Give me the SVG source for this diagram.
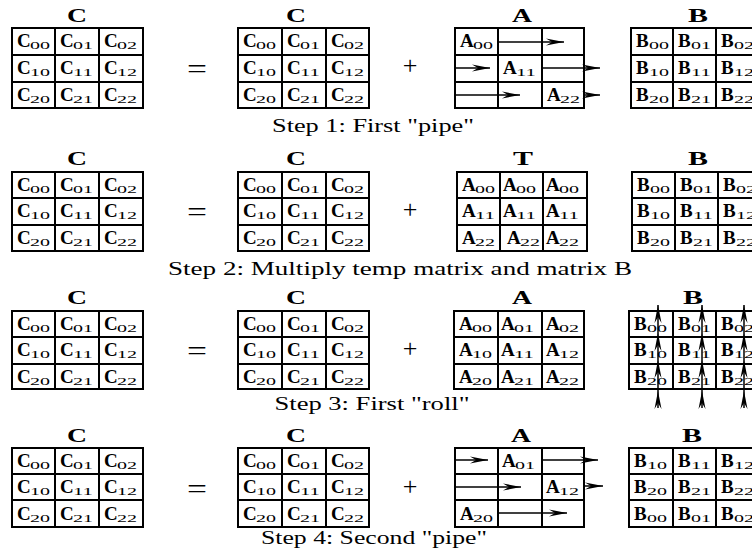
<svg xmlns="http://www.w3.org/2000/svg" width="752" height="555" viewBox="0 0 752 555">
<style>
text{font-family:"Liberation Serif","Times New Roman",serif;fill:#000}
.L{font-weight:bold;font-size:19px}
.s{font-size:11px}
.t{font-weight:bold;font-size:19px;text-anchor:middle}
.cap{font-size:18px;text-anchor:middle}
.op{text-anchor:middle}
.g{fill:none;stroke:#000;stroke-width:2}
.ar{fill:none;stroke:#000;stroke-width:1.5;marker-end:url(#ah)}
</style>
<defs>
<marker id="ah" markerUnits="userSpaceOnUse" markerWidth="20" markerHeight="8" refX="18" refY="3.5" orient="auto" overflow="visible"><path d="M0,0 L18,3.5 L0,7 L6,3.5 Z" fill="#000"/></marker>
</defs>
<rect width="752" height="555" fill="#fff"/>

<!-- ROW 1 -->
<g id="r1-C-left">
<text class="t" x="77" y="22" textLength="20" lengthAdjust="spacingAndGlyphs">C</text>
<path class="g" d="M12 28H143V108H12Z M55 28V108 M99 28V108 M12 55H143 M12 82H143"/>
<text class="L" x="17" y="47">C</text><text class="s" x="30" y="49" textLength="20" lengthAdjust="spacingAndGlyphs">00</text>
<text class="L" x="60" y="47">C</text><text class="s" x="73" y="49" textLength="20" lengthAdjust="spacingAndGlyphs">01</text>
<text class="L" x="104" y="47">C</text><text class="s" x="117" y="49" textLength="20" lengthAdjust="spacingAndGlyphs">02</text>
<text class="L" x="17" y="74">C</text><text class="s" x="30" y="76" textLength="20" lengthAdjust="spacingAndGlyphs">10</text>
<text class="L" x="60" y="74">C</text><text class="s" x="73" y="76" textLength="20" lengthAdjust="spacingAndGlyphs">11</text>
<text class="L" x="104" y="74">C</text><text class="s" x="117" y="76" textLength="20" lengthAdjust="spacingAndGlyphs">12</text>
<text class="L" x="17" y="101">C</text><text class="s" x="30" y="103" textLength="20" lengthAdjust="spacingAndGlyphs">20</text>
<text class="L" x="60" y="101">C</text><text class="s" x="73" y="103" textLength="20" lengthAdjust="spacingAndGlyphs">21</text>
<text class="L" x="104" y="101">C</text><text class="s" x="117" y="103" textLength="20" lengthAdjust="spacingAndGlyphs">22</text>
</g>
<text class="op" x="197" y="78" font-size="28" textLength="20" lengthAdjust="spacingAndGlyphs">=</text>
<g id="r1-C-mid">
<text class="t" x="296" y="22" textLength="20" lengthAdjust="spacingAndGlyphs">C</text>
<path class="g" d="M238 28H369V108H238Z M282 28V108 M326 28V108 M238 55H369 M238 82H369"/>
<text class="L" x="243" y="47">C</text><text class="s" x="256" y="49" textLength="20" lengthAdjust="spacingAndGlyphs">00</text>
<text class="L" x="287" y="47">C</text><text class="s" x="300" y="49" textLength="20" lengthAdjust="spacingAndGlyphs">01</text>
<text class="L" x="331" y="47">C</text><text class="s" x="344" y="49" textLength="20" lengthAdjust="spacingAndGlyphs">02</text>
<text class="L" x="243" y="74">C</text><text class="s" x="256" y="76" textLength="20" lengthAdjust="spacingAndGlyphs">10</text>
<text class="L" x="287" y="74">C</text><text class="s" x="300" y="76" textLength="20" lengthAdjust="spacingAndGlyphs">11</text>
<text class="L" x="331" y="74">C</text><text class="s" x="344" y="76" textLength="20" lengthAdjust="spacingAndGlyphs">12</text>
<text class="L" x="243" y="101">C</text><text class="s" x="256" y="103" textLength="20" lengthAdjust="spacingAndGlyphs">20</text>
<text class="L" x="287" y="101">C</text><text class="s" x="300" y="103" textLength="20" lengthAdjust="spacingAndGlyphs">21</text>
<text class="L" x="331" y="101">C</text><text class="s" x="344" y="103" textLength="20" lengthAdjust="spacingAndGlyphs">22</text>
</g>
<text class="op" x="410" y="74" font-size="26">+</text>
<g id="r1-A">
<text class="t" x="522" y="22" textLength="20" lengthAdjust="spacingAndGlyphs">A</text>
<path class="g" d="M455 28H584V108H455Z M498 28V108 M542 28V108 M455 55H584 M455 82H584"/>
<text class="L" x="460" y="47">A</text><text class="s" x="473" y="49" textLength="20" lengthAdjust="spacingAndGlyphs">00</text>
<text class="L" x="503" y="74">A</text><text class="s" x="516" y="76" textLength="20" lengthAdjust="spacingAndGlyphs">11</text>
<text class="L" x="547" y="101">A</text><text class="s" x="560" y="103" textLength="20" lengthAdjust="spacingAndGlyphs">22</text>
</g>
<g id="r1-B">
<text class="t" x="698" y="22" textLength="20" lengthAdjust="spacingAndGlyphs">B</text>
<path class="g" d="M631 28H759V108H631Z M673 28V108 M716 28V108 M631 55H759 M631 82H759"/>
<text class="L" x="636" y="47">B</text><text class="s" x="649" y="49" textLength="20" lengthAdjust="spacingAndGlyphs">00</text>
<text class="L" x="678" y="47">B</text><text class="s" x="691" y="49" textLength="20" lengthAdjust="spacingAndGlyphs">01</text>
<text class="L" x="721" y="47">B</text><text class="s" x="734" y="49" textLength="20" lengthAdjust="spacingAndGlyphs">02</text>
<text class="L" x="636" y="74">B</text><text class="s" x="649" y="76" textLength="20" lengthAdjust="spacingAndGlyphs">10</text>
<text class="L" x="678" y="74">B</text><text class="s" x="691" y="76" textLength="20" lengthAdjust="spacingAndGlyphs">11</text>
<text class="L" x="721" y="74">B</text><text class="s" x="734" y="76" textLength="20" lengthAdjust="spacingAndGlyphs">12</text>
<text class="L" x="636" y="101">B</text><text class="s" x="649" y="103" textLength="20" lengthAdjust="spacingAndGlyphs">20</text>
<text class="L" x="678" y="101">B</text><text class="s" x="691" y="103" textLength="20" lengthAdjust="spacingAndGlyphs">21</text>
<text class="L" x="721" y="101">B</text><text class="s" x="734" y="103" textLength="20" lengthAdjust="spacingAndGlyphs">22</text>
</g>
<text class="cap" x="373" y="132" textLength="202" lengthAdjust="spacingAndGlyphs">Step 1: First "pipe"</text>

<!-- ROW 2 -->
<g id="r2-C-left">
<text class="t" x="77" y="165" textLength="20" lengthAdjust="spacingAndGlyphs">C</text>
<path class="g" d="M12 172H143V251H12Z M55 172V251 M99 172V251 M12 198H143 M12 225H143"/>
<text class="L" x="17" y="191">C</text><text class="s" x="30" y="193" textLength="20" lengthAdjust="spacingAndGlyphs">00</text>
<text class="L" x="60" y="191">C</text><text class="s" x="73" y="193" textLength="20" lengthAdjust="spacingAndGlyphs">01</text>
<text class="L" x="104" y="191">C</text><text class="s" x="117" y="193" textLength="20" lengthAdjust="spacingAndGlyphs">02</text>
<text class="L" x="17" y="217">C</text><text class="s" x="30" y="219" textLength="20" lengthAdjust="spacingAndGlyphs">10</text>
<text class="L" x="60" y="217">C</text><text class="s" x="73" y="219" textLength="20" lengthAdjust="spacingAndGlyphs">11</text>
<text class="L" x="104" y="217">C</text><text class="s" x="117" y="219" textLength="20" lengthAdjust="spacingAndGlyphs">12</text>
<text class="L" x="17" y="244">C</text><text class="s" x="30" y="246" textLength="20" lengthAdjust="spacingAndGlyphs">20</text>
<text class="L" x="60" y="244">C</text><text class="s" x="73" y="246" textLength="20" lengthAdjust="spacingAndGlyphs">21</text>
<text class="L" x="104" y="244">C</text><text class="s" x="117" y="246" textLength="20" lengthAdjust="spacingAndGlyphs">22</text>
</g>
<text class="op" x="197" y="221" font-size="28" textLength="20" lengthAdjust="spacingAndGlyphs">=</text>
<g id="r2-C-mid">
<text class="t" x="296" y="165" textLength="20" lengthAdjust="spacingAndGlyphs">C</text>
<path class="g" d="M238 172H369V251H238Z M282 172V251 M326 172V251 M238 198H369 M238 225H369"/>
<text class="L" x="243" y="191">C</text><text class="s" x="256" y="193" textLength="20" lengthAdjust="spacingAndGlyphs">00</text>
<text class="L" x="287" y="191">C</text><text class="s" x="300" y="193" textLength="20" lengthAdjust="spacingAndGlyphs">01</text>
<text class="L" x="331" y="191">C</text><text class="s" x="344" y="193" textLength="20" lengthAdjust="spacingAndGlyphs">02</text>
<text class="L" x="243" y="217">C</text><text class="s" x="256" y="219" textLength="20" lengthAdjust="spacingAndGlyphs">10</text>
<text class="L" x="287" y="217">C</text><text class="s" x="300" y="219" textLength="20" lengthAdjust="spacingAndGlyphs">11</text>
<text class="L" x="331" y="217">C</text><text class="s" x="344" y="219" textLength="20" lengthAdjust="spacingAndGlyphs">12</text>
<text class="L" x="243" y="244">C</text><text class="s" x="256" y="246" textLength="20" lengthAdjust="spacingAndGlyphs">20</text>
<text class="L" x="287" y="244">C</text><text class="s" x="300" y="246" textLength="20" lengthAdjust="spacingAndGlyphs">21</text>
<text class="L" x="331" y="244">C</text><text class="s" x="344" y="246" textLength="20" lengthAdjust="spacingAndGlyphs">22</text>
</g>
<text class="op" x="410" y="218" font-size="26">+</text>
<g id="r2-T">
<text class="t" x="523" y="165" textLength="20" lengthAdjust="spacingAndGlyphs">T</text>
<path class="g" d="M457 172H587V251H457Z M500 172V251 M543 172V251 M457 198H587 M457 225H587"/>
<text class="L" x="462" y="191">A</text><text class="s" x="475" y="193" textLength="20" lengthAdjust="spacingAndGlyphs">00</text>
<text class="L" x="503" y="191">A</text><text class="s" x="516" y="193" textLength="20" lengthAdjust="spacingAndGlyphs">00</text>
<text class="L" x="546" y="191">A</text><text class="s" x="559" y="193" textLength="20" lengthAdjust="spacingAndGlyphs">00</text>
<text class="L" x="462" y="217">A</text><text class="s" x="475" y="219" textLength="20" lengthAdjust="spacingAndGlyphs">11</text>
<text class="L" x="503" y="217">A</text><text class="s" x="516" y="219" textLength="20" lengthAdjust="spacingAndGlyphs">11</text>
<text class="L" x="546" y="217">A</text><text class="s" x="559" y="219" textLength="20" lengthAdjust="spacingAndGlyphs">11</text>
<text class="L" x="462" y="244">A</text><text class="s" x="475" y="246" textLength="20" lengthAdjust="spacingAndGlyphs">22</text>
<text class="L" x="507" y="244">A</text><text class="s" x="520" y="246" textLength="20" lengthAdjust="spacingAndGlyphs">22</text>
<text class="L" x="546" y="244">A</text><text class="s" x="559" y="246" textLength="20" lengthAdjust="spacingAndGlyphs">22</text>
</g>
<g id="r2-B">
<text class="t" x="698" y="165" textLength="20" lengthAdjust="spacingAndGlyphs">B</text>
<path class="g" d="M632 172H761V251H632Z M675 172V251 M718 172V251 M632 198H761 M632 225H761"/>
<text class="L" x="637" y="191">B</text><text class="s" x="650" y="193" textLength="20" lengthAdjust="spacingAndGlyphs">00</text>
<text class="L" x="680" y="191">B</text><text class="s" x="693" y="193" textLength="20" lengthAdjust="spacingAndGlyphs">01</text>
<text class="L" x="723" y="191">B</text><text class="s" x="736" y="193" textLength="20" lengthAdjust="spacingAndGlyphs">02</text>
<text class="L" x="637" y="217">B</text><text class="s" x="650" y="219" textLength="20" lengthAdjust="spacingAndGlyphs">10</text>
<text class="L" x="680" y="217">B</text><text class="s" x="693" y="219" textLength="20" lengthAdjust="spacingAndGlyphs">11</text>
<text class="L" x="723" y="217">B</text><text class="s" x="736" y="219" textLength="20" lengthAdjust="spacingAndGlyphs">12</text>
<text class="L" x="637" y="244">B</text><text class="s" x="650" y="246" textLength="20" lengthAdjust="spacingAndGlyphs">20</text>
<text class="L" x="680" y="244">B</text><text class="s" x="693" y="246" textLength="20" lengthAdjust="spacingAndGlyphs">21</text>
<text class="L" x="723" y="244">B</text><text class="s" x="736" y="246" textLength="20" lengthAdjust="spacingAndGlyphs">22</text>
</g>
<text class="cap" x="400" y="275" textLength="464" lengthAdjust="spacingAndGlyphs">Step 2: Multiply temp matrix and matrix B</text>

<!-- ROW 3 -->
<g id="r3-C-left">
<text class="t" x="77" y="304" textLength="20" lengthAdjust="spacingAndGlyphs">C</text>
<path class="g" d="M12 311H143V389H12Z M55 311V389 M99 311V389 M12 337H143 M12 364H143"/>
<text class="L" x="17" y="330">C</text><text class="s" x="30" y="332" textLength="20" lengthAdjust="spacingAndGlyphs">00</text>
<text class="L" x="60" y="330">C</text><text class="s" x="73" y="332" textLength="20" lengthAdjust="spacingAndGlyphs">01</text>
<text class="L" x="104" y="330">C</text><text class="s" x="117" y="332" textLength="20" lengthAdjust="spacingAndGlyphs">02</text>
<text class="L" x="17" y="356">C</text><text class="s" x="30" y="358" textLength="20" lengthAdjust="spacingAndGlyphs">10</text>
<text class="L" x="60" y="356">C</text><text class="s" x="73" y="358" textLength="20" lengthAdjust="spacingAndGlyphs">11</text>
<text class="L" x="104" y="356">C</text><text class="s" x="117" y="358" textLength="20" lengthAdjust="spacingAndGlyphs">12</text>
<text class="L" x="17" y="383">C</text><text class="s" x="30" y="385" textLength="20" lengthAdjust="spacingAndGlyphs">20</text>
<text class="L" x="60" y="383">C</text><text class="s" x="73" y="385" textLength="20" lengthAdjust="spacingAndGlyphs">21</text>
<text class="L" x="104" y="383">C</text><text class="s" x="117" y="385" textLength="20" lengthAdjust="spacingAndGlyphs">22</text>
</g>
<text class="op" x="197" y="360" font-size="28" textLength="20" lengthAdjust="spacingAndGlyphs">=</text>
<g id="r3-C-mid">
<text class="t" x="296" y="304" textLength="20" lengthAdjust="spacingAndGlyphs">C</text>
<path class="g" d="M238 311H369V389H238Z M282 311V389 M326 311V389 M238 337H369 M238 364H369"/>
<text class="L" x="243" y="330">C</text><text class="s" x="256" y="332" textLength="20" lengthAdjust="spacingAndGlyphs">00</text>
<text class="L" x="287" y="330">C</text><text class="s" x="300" y="332" textLength="20" lengthAdjust="spacingAndGlyphs">01</text>
<text class="L" x="331" y="330">C</text><text class="s" x="344" y="332" textLength="20" lengthAdjust="spacingAndGlyphs">02</text>
<text class="L" x="243" y="356">C</text><text class="s" x="256" y="358" textLength="20" lengthAdjust="spacingAndGlyphs">10</text>
<text class="L" x="287" y="356">C</text><text class="s" x="300" y="358" textLength="20" lengthAdjust="spacingAndGlyphs">11</text>
<text class="L" x="331" y="356">C</text><text class="s" x="344" y="358" textLength="20" lengthAdjust="spacingAndGlyphs">12</text>
<text class="L" x="243" y="383">C</text><text class="s" x="256" y="385" textLength="20" lengthAdjust="spacingAndGlyphs">20</text>
<text class="L" x="287" y="383">C</text><text class="s" x="300" y="385" textLength="20" lengthAdjust="spacingAndGlyphs">21</text>
<text class="L" x="331" y="383">C</text><text class="s" x="344" y="385" textLength="20" lengthAdjust="spacingAndGlyphs">22</text>
</g>
<text class="op" x="410" y="357" font-size="26">+</text>
<g id="r3-A">
<text class="t" x="522" y="304" textLength="20" lengthAdjust="spacingAndGlyphs">A</text>
<path class="g" d="M454 311H584V389H454Z M498 311V389 M542 311V389 M454 337H584 M454 364H584"/>
<text class="L" x="459" y="330">A</text><text class="s" x="472" y="332" textLength="20" lengthAdjust="spacingAndGlyphs">00</text>
<text class="L" x="501" y="330">A</text><text class="s" x="514" y="332" textLength="20" lengthAdjust="spacingAndGlyphs">01</text>
<text class="L" x="546" y="330">A</text><text class="s" x="559" y="332" textLength="20" lengthAdjust="spacingAndGlyphs">02</text>
<text class="L" x="459" y="356">A</text><text class="s" x="472" y="358" textLength="20" lengthAdjust="spacingAndGlyphs">10</text>
<text class="L" x="501" y="356">A</text><text class="s" x="514" y="358" textLength="20" lengthAdjust="spacingAndGlyphs">11</text>
<text class="L" x="546" y="356">A</text><text class="s" x="559" y="358" textLength="20" lengthAdjust="spacingAndGlyphs">12</text>
<text class="L" x="459" y="383">A</text><text class="s" x="472" y="385" textLength="20" lengthAdjust="spacingAndGlyphs">20</text>
<text class="L" x="501" y="383">A</text><text class="s" x="514" y="385" textLength="20" lengthAdjust="spacingAndGlyphs">21</text>
<text class="L" x="546" y="383">A</text><text class="s" x="559" y="385" textLength="20" lengthAdjust="spacingAndGlyphs">22</text>
</g>
<g id="r3-B">
<text class="t" x="693" y="304" textLength="20" lengthAdjust="spacingAndGlyphs">B</text>
<path class="g" d="M629 311H759V389H629Z M673 311V389 M716 311V389 M629 337H759 M629 364H759"/>
<text class="L" x="634" y="330">B</text><text class="s" x="647" y="332" textLength="20" lengthAdjust="spacingAndGlyphs">00</text>
<text class="L" x="678" y="330">B</text><text class="s" x="691" y="332" textLength="20" lengthAdjust="spacingAndGlyphs">01</text>
<text class="L" x="721" y="330">B</text><text class="s" x="734" y="332" textLength="20" lengthAdjust="spacingAndGlyphs">02</text>
<text class="L" x="634" y="356">B</text><text class="s" x="647" y="358" textLength="20" lengthAdjust="spacingAndGlyphs">10</text>
<text class="L" x="678" y="356">B</text><text class="s" x="691" y="358" textLength="20" lengthAdjust="spacingAndGlyphs">11</text>
<text class="L" x="721" y="356">B</text><text class="s" x="734" y="358" textLength="20" lengthAdjust="spacingAndGlyphs">12</text>
<text class="L" x="634" y="383">B</text><text class="s" x="647" y="385" textLength="20" lengthAdjust="spacingAndGlyphs">20</text>
<text class="L" x="678" y="383">B</text><text class="s" x="691" y="385" textLength="20" lengthAdjust="spacingAndGlyphs">21</text>
<text class="L" x="721" y="383">B</text><text class="s" x="734" y="385" textLength="20" lengthAdjust="spacingAndGlyphs">22</text>
</g>
<text class="cap" x="372" y="410" textLength="195" lengthAdjust="spacingAndGlyphs">Step 3: First "roll"</text>

<!-- ROW 4 -->
<g id="r4-C-left">
<text class="t" x="77" y="442" textLength="20" lengthAdjust="spacingAndGlyphs">C</text>
<path class="g" d="M12 448H143V527H12Z M55 448V527 M99 448V527 M12 474H143 M12 500H143"/>
<text class="L" x="17" y="467">C</text><text class="s" x="30" y="469" textLength="20" lengthAdjust="spacingAndGlyphs">00</text>
<text class="L" x="60" y="467">C</text><text class="s" x="73" y="469" textLength="20" lengthAdjust="spacingAndGlyphs">01</text>
<text class="L" x="104" y="467">C</text><text class="s" x="117" y="469" textLength="20" lengthAdjust="spacingAndGlyphs">02</text>
<text class="L" x="17" y="493">C</text><text class="s" x="30" y="495" textLength="20" lengthAdjust="spacingAndGlyphs">10</text>
<text class="L" x="60" y="493">C</text><text class="s" x="73" y="495" textLength="20" lengthAdjust="spacingAndGlyphs">11</text>
<text class="L" x="104" y="493">C</text><text class="s" x="117" y="495" textLength="20" lengthAdjust="spacingAndGlyphs">12</text>
<text class="L" x="17" y="520">C</text><text class="s" x="30" y="522" textLength="20" lengthAdjust="spacingAndGlyphs">20</text>
<text class="L" x="60" y="520">C</text><text class="s" x="73" y="522" textLength="20" lengthAdjust="spacingAndGlyphs">21</text>
<text class="L" x="104" y="520">C</text><text class="s" x="117" y="522" textLength="20" lengthAdjust="spacingAndGlyphs">22</text>
</g>
<text class="op" x="197" y="498" font-size="28" textLength="20" lengthAdjust="spacingAndGlyphs">=</text>
<g id="r4-C-mid">
<text class="t" x="296" y="442" textLength="20" lengthAdjust="spacingAndGlyphs">C</text>
<path class="g" d="M238 448H369V527H238Z M282 448V527 M326 448V527 M238 474H369 M238 500H369"/>
<text class="L" x="243" y="467">C</text><text class="s" x="256" y="469" textLength="20" lengthAdjust="spacingAndGlyphs">00</text>
<text class="L" x="287" y="467">C</text><text class="s" x="300" y="469" textLength="20" lengthAdjust="spacingAndGlyphs">01</text>
<text class="L" x="331" y="467">C</text><text class="s" x="344" y="469" textLength="20" lengthAdjust="spacingAndGlyphs">02</text>
<text class="L" x="243" y="493">C</text><text class="s" x="256" y="495" textLength="20" lengthAdjust="spacingAndGlyphs">10</text>
<text class="L" x="287" y="493">C</text><text class="s" x="300" y="495" textLength="20" lengthAdjust="spacingAndGlyphs">11</text>
<text class="L" x="331" y="493">C</text><text class="s" x="344" y="495" textLength="20" lengthAdjust="spacingAndGlyphs">12</text>
<text class="L" x="243" y="520">C</text><text class="s" x="256" y="522" textLength="20" lengthAdjust="spacingAndGlyphs">20</text>
<text class="L" x="287" y="520">C</text><text class="s" x="300" y="522" textLength="20" lengthAdjust="spacingAndGlyphs">21</text>
<text class="L" x="331" y="520">C</text><text class="s" x="344" y="522" textLength="20" lengthAdjust="spacingAndGlyphs">22</text>
</g>
<text class="op" x="410" y="495" font-size="26">+</text>
<g id="r4-A">
<text class="t" x="521" y="442" textLength="20" lengthAdjust="spacingAndGlyphs">A</text>
<path class="g" d="M455 448H584V527H455Z M498 448V527 M542 448V527 M455 474H584 M455 500H584"/>
<text class="L" x="502" y="467">A</text><text class="s" x="515" y="469" textLength="20" lengthAdjust="spacingAndGlyphs">01</text>
<text class="L" x="546" y="493">A</text><text class="s" x="559" y="495" textLength="20" lengthAdjust="spacingAndGlyphs">12</text>
<text class="L" x="460" y="520">A</text><text class="s" x="473" y="522" textLength="20" lengthAdjust="spacingAndGlyphs">20</text>
</g>
<g id="r4-B">
<text class="t" x="692" y="442" textLength="20" lengthAdjust="spacingAndGlyphs">B</text>
<path class="g" d="M629 448H759V527H629Z M673 448V527 M716 448V527 M629 474H759 M629 500H759"/>
<text class="L" x="634" y="467">B</text><text class="s" x="647" y="469" textLength="20" lengthAdjust="spacingAndGlyphs">10</text>
<text class="L" x="678" y="467">B</text><text class="s" x="691" y="469" textLength="20" lengthAdjust="spacingAndGlyphs">11</text>
<text class="L" x="721" y="467">B</text><text class="s" x="734" y="469" textLength="20" lengthAdjust="spacingAndGlyphs">12</text>
<text class="L" x="634" y="493">B</text><text class="s" x="647" y="495" textLength="20" lengthAdjust="spacingAndGlyphs">20</text>
<text class="L" x="678" y="493">B</text><text class="s" x="691" y="495" textLength="20" lengthAdjust="spacingAndGlyphs">21</text>
<text class="L" x="721" y="493">B</text><text class="s" x="734" y="495" textLength="20" lengthAdjust="spacingAndGlyphs">22</text>
<text class="L" x="634" y="520">B</text><text class="s" x="647" y="522" textLength="20" lengthAdjust="spacingAndGlyphs">00</text>
<text class="L" x="678" y="520">B</text><text class="s" x="691" y="522" textLength="20" lengthAdjust="spacingAndGlyphs">01</text>
<text class="L" x="721" y="520">B</text><text class="s" x="734" y="522" textLength="20" lengthAdjust="spacingAndGlyphs">02</text>
</g>
<text class="cap" x="374" y="544" textLength="226" lengthAdjust="spacingAndGlyphs">Step 4: Second "pipe"</text>

<!-- CONNECTORS -->
<g id="connectors">
<path class="ar" d="M498 42H564"/>
<path class="ar" d="M455 68H490"/>
<path class="ar" d="M543 68H600"/>
<path class="ar" d="M455 95H520"/>
<path class="ar" d="M584 95H600"/>

<path class="ar" d="M658 408V391"/><path class="ar" d="M658 391V360"/><path class="ar" d="M658 360V333"/><path class="ar" d="M658 333V305"/>
<path class="ar" d="M702 408V391"/><path class="ar" d="M702 391V360"/><path class="ar" d="M702 360V333"/><path class="ar" d="M702 333V305"/>
<path class="ar" d="M744 408V391"/><path class="ar" d="M744 391V360"/><path class="ar" d="M744 360V333"/><path class="ar" d="M744 333V305"/>

<path class="ar" d="M455 460H488"/>
<path class="ar" d="M542 460H598"/>
<path class="ar" d="M455 487H521"/>
<path class="ar" d="M584 486H603"/>
<path class="ar" d="M498 513H567"/>
</g>
</svg>
